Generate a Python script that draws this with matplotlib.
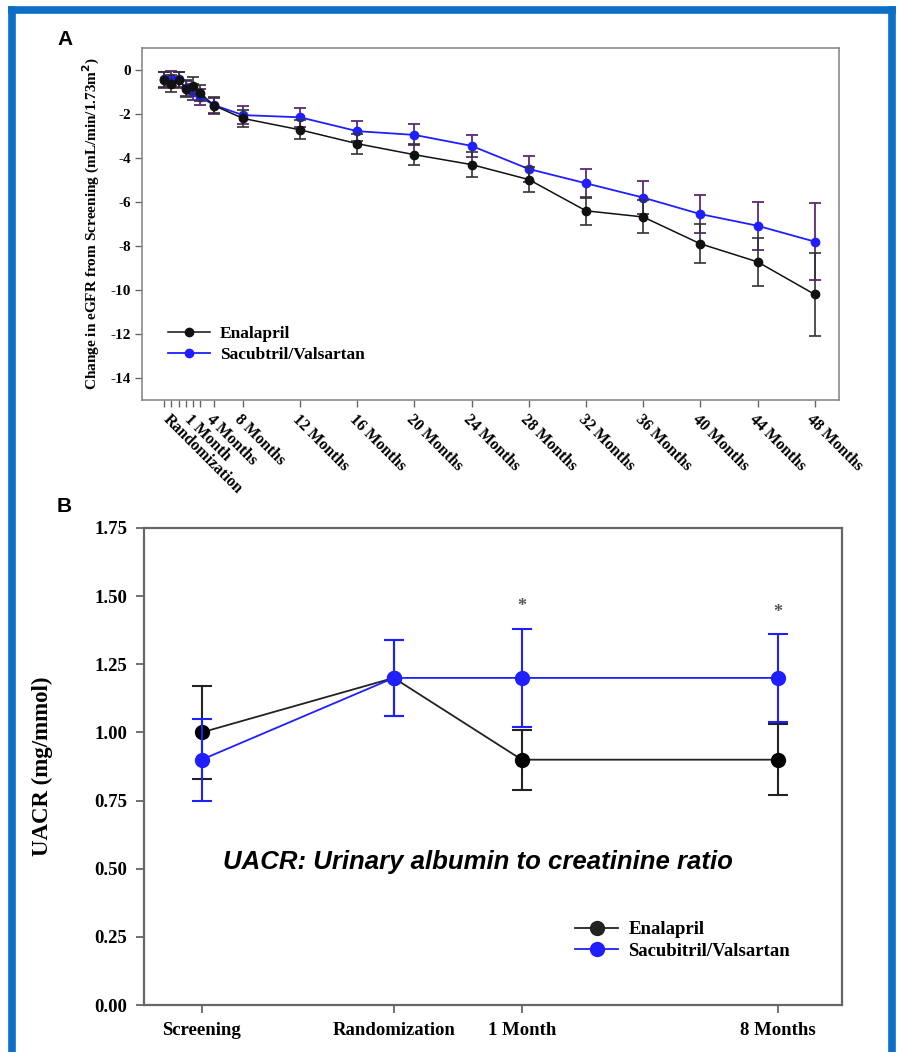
import numpy as np
import matplotlib
matplotlib.use("Agg")
import matplotlib.pyplot as plt
from matplotlib.lines import Line2D

# ---- panel A: change in eGFR from screening ----
visits_a = [2.5, 3.0, 3.5, 4.0, 4.5, 5.0, 6.0, 8, 12, 16, 20, 24, 28, 32, 36, 40, 44, 48]
labels_a = ['', 'Randomization', '', '', '1 Month', '', '4 Months', '8 Months', '12 Months',
            '16 Months', '20 Months', '24 Months', '28 Months', '32 Months', '36 Months',
            '40 Months', '44 Months', '48 Months']
enal_a = [-0.45, -0.62, -0.45, -0.85, -0.72, -1.05, -1.62, -2.2, -2.72, -3.35, -3.85,
          -4.3, -4.98, -6.4, -6.68, -7.9, -8.72, -10.2]
enal_a_err = [0.38, 0.38, 0.38, 0.38, 0.38, 0.38, 0.38, 0.4, 0.43, 0.45, 0.48,
              0.55, 0.58, 0.63, 0.75, 0.88, 1.1, 1.9]
sv_a = [-0.43, -0.38, -0.43, -0.83, -1.0, -1.23, -1.6, -2.05, -2.15, -2.78, -2.95,
        -3.45, -4.5, -5.15, -5.8, -6.55, -7.08, -7.8]
sv_a_err = [0.35, 0.35, 0.35, 0.35, 0.35, 0.35, 0.35, 0.4, 0.42, 0.45, 0.48,
            0.5, 0.6, 0.65, 0.75, 0.85, 1.1, 1.75]

# ---- panel B: UACR ----
visits_b = [0, 3, 5, 9]
labels_b = ['Screening', 'Randomization', '1 Month', '8 Months']
enal_b = [1.0, 1.2, 0.9, 0.9]
enal_b_lo = [0.83, 1.06, 0.79, 0.77]
enal_b_hi = [1.17, 1.34, 1.01, 1.03]
sv_b = [0.9, 1.2, 1.2, 1.2]
sv_b_lo = [0.75, 1.06, 1.02, 1.04]
sv_b_hi = [1.05, 1.34, 1.38, 1.36]
signif_b = [False, False, True, True]

SERIF = 'Liberation Serif'
SANS = 'Liberation Sans'
BLUE = '#1f1fff'
SPINE = '#666666'

W, H = 897, 1052
fig = plt.figure(figsize=(W / 100, H / 100), dpi=100)

def box(l, t, r, b):
    return [l / W, 1 - b / H, (r - l) / W, (b - t) / H]

# ---------------- A ----------------
ax = fig.add_axes(box(142, 48, 839, 400))
ax.errorbar(visits_a, sv_a, yerr=sv_a_err, color=BLUE, ecolor='#5e2a72', lw=1.3,
            elinewidth=1.3, capsize=4.5, capthick=1.3, marker='o', ms=6, zorder=2)
ax.errorbar(visits_a, enal_a, yerr=enal_a_err, color='#111111', ecolor='#333333', lw=1.1,
            elinewidth=1.2, capsize=4.5, capthick=1.2, marker='o', ms=6, zorder=3)
ax.set_xlim(0.94, 49.7)
ax.set_ylim(-15, 1)
ax.set_yticks(np.arange(0, -15, -2))
ax.set_yticklabels([str(v) for v in np.arange(0, -15, -2)], fontfamily=SERIF,
                   fontweight='bold', fontsize=11)
ax.set_xticks(visits_a)
ax.set_xticklabels(labels_a, rotation=-45, ha='left', va='top', rotation_mode='anchor',
                   fontfamily=SERIF, fontweight='bold', fontsize=11.5)
ax.tick_params(length=5, width=1, color=SPINE, pad=3)
for s in ax.spines.values():
    s.set_color('#8a8a8a')
    s.set_linewidth(1.2)
ax.set_ylabel('Change in eGFR from Screening (mL/min/1.73m$^{\\mathbf{2}}$)',
              fontfamily=SERIF, fontweight='bold', fontsize=11, labelpad=6)
leg_a = [Line2D([], [], color='#111111', lw=1.1, marker='o', ms=6),
         Line2D([], [], color=BLUE, lw=1.3, marker='o', ms=6)]
ax.legend(leg_a, ['Enalapril', 'Sacubtril/Valsartan'], loc='upper left', frameon=False,
          bbox_to_anchor=(168 / W, 1 - 326 / H), bbox_transform=fig.transFigure,
          borderpad=0, borderaxespad=0, handlelength=2.4, handletextpad=0.6,
          labelspacing=0.28, prop={'family': SERIF, 'weight': 'bold', 'size': 12.5})

# ---------------- B ----------------
bx = fig.add_axes(box(144, 528, 842, 1005))
e_lo = np.array(enal_b) - np.array(enal_b_lo)
e_hi = np.array(enal_b_hi) - np.array(enal_b)
s_lo = np.array(sv_b) - np.array(sv_b_lo)
s_hi = np.array(sv_b_hi) - np.array(sv_b)
bx.errorbar(visits_b, enal_b, yerr=[e_lo, e_hi], color='#222222', ecolor='#222222', lw=1.3,
            elinewidth=1.5, capsize=7, capthick=1.5, marker='o', ms=10,
            markerfacecolor='black', markeredgecolor='black', zorder=2)
bx.errorbar(visits_b, sv_b, yerr=[s_lo, s_hi], color=BLUE, ecolor=BLUE, lw=1.3,
            elinewidth=1.5, capsize=7, capthick=1.5, marker='o', ms=10, zorder=3)
for x, sig, top in zip(visits_b, signif_b, sv_b_hi):
    if sig:
        bx.text(x, top + 0.05, '*', ha='center', va='bottom', color='#555555',
                fontsize=13, fontfamily=SERIF, fontweight='bold')
bx.set_xlim(-0.9, 10.0)
bx.set_ylim(0, 1.75)
yt = np.arange(0, 1.76, 0.25)
bx.set_yticks(yt)
bx.set_yticklabels(['%.2f' % v for v in yt], fontfamily=SERIF, fontweight='bold', fontsize=13.5)
bx.set_xticks(visits_b)
bx.set_xticklabels(labels_b, fontfamily=SERIF, fontweight='bold', fontsize=13.5)
bx.tick_params(length=6, width=1.3, color=SPINE, pad=6)
for s in bx.spines.values():
    s.set_color(SPINE)
    s.set_linewidth(1.6)
bx.set_ylabel('UACR (mg/mmol)', fontfamily=SERIF, fontweight='bold', fontsize=16.5, labelpad=30)
bx.text(0.478, 0.30, 'UACR: Urinary albumin to creatinine ratio', transform=bx.transAxes,
        ha='center', va='center', fontfamily=SANS, fontweight='bold', fontstyle='italic',
        fontsize=18.5, color='black')
leg_b = [Line2D([], [], color='#222222', lw=1.3, marker='o', ms=10),
         Line2D([], [], color=BLUE, lw=1.3, marker='o', ms=10)]
bx.legend(leg_b, ['Enalapril', 'Sacubitril/Valsartan'], loc='upper left', frameon=False,
          bbox_to_anchor=(575 / W, 1 - 921 / H), bbox_transform=fig.transFigure,
          borderpad=0, borderaxespad=0, handlelength=2.3, handletextpad=0.55,
          labelspacing=0.25, prop={'family': SERIF, 'weight': 'bold', 'size': 13.5})

# panel letters
fig.text(57 / W, 1 - 45 / H, 'A', fontfamily=SANS, fontweight='bold', fontsize=15)
fig.text(57 / W, 1 - 512 / H, 'B', fontfamily=SANS, fontweight='bold', fontsize=15)

# blue frame around the figure
frame_col = '#0b6fc6'
fig.add_artist(Line2D([11.5 / W, 11.5 / W], [0, 1 - 10 / H], color=frame_col, lw=5.5,
                      solid_capstyle='projecting'))
fig.add_artist(Line2D([11.5 / W, 892 / W], [1 - 10 / H, 1 - 10 / H], color=frame_col, lw=5.5,
                      solid_capstyle='projecting'))
fig.add_artist(Line2D([892 / W, 892 / W], [0, 1 - 10 / H], color=frame_col, lw=5.5,
                      solid_capstyle='projecting'))

fig.savefig('out.png', dpi=100)
